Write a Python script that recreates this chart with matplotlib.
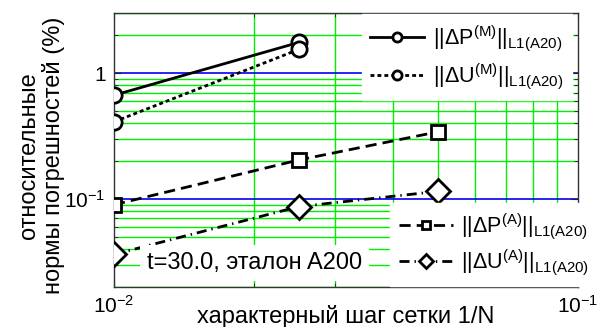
import matplotlib
matplotlib.use("Agg")
import matplotlib.pyplot as plt
from matplotlib.ticker import LogLocator, NullFormatter, FixedLocator, FixedFormatter

plt.rcParams['font.family'] = ['Liberation Sans', 'DejaVu Sans']
plt.rcParams['mathtext.fontset'] = 'custom'
plt.rcParams['mathtext.rm'] = 'Liberation Sans'
plt.rcParams['mathtext.it'] = 'Liberation Sans'
plt.rcParams['mathtext.default'] = 'regular'

# mesh step h = 1/N
h_M = [0.01, 0.025]
dP_M = [0.667, 1.75]
dU_M = [0.41, 1.54]

h_A = [0.01, 0.025, 0.05]
dP_A = [0.090, 0.204, 0.342]
dU_A = [0.0363, 0.087, 0.115]

labels = [r'$||\Delta P^{(M)}||_{L1(A20)}$',
          r'$||\Delta U^{(M)}||_{L1(A20)}$',
          r'$||\Delta P^{(A)}||_{L1(A20)}$',
          r'$||\Delta U^{(A)}||_{L1(A20)}$']

fig = plt.figure(figsize=(6.08, 3.27), dpi=100)
ax = fig.add_axes([114/608, 1 - 287/327, (578 - 114)/608, (287 - 13)/327])
ax.set_xscale('log')
ax.set_yscale('log')
ax.set_xlim(0.01, 0.1)
ax.set_ylim(0.02, 3)

# grid: blue at decades, green at intermediate values
ax.xaxis.set_minor_locator(LogLocator(base=10, subs=range(2, 10)))
ax.yaxis.set_minor_locator(LogLocator(base=10, subs=range(2, 10)))
ax.grid(True, which='minor', color='#00ee00', lw=1.0, zorder=0)
ax.grid(True, which='major', axis='y', color='#0000ee', lw=1.2, zorder=0)
ax.set_axisbelow(True)

ax.xaxis.set_major_locator(FixedLocator([0.01, 0.1]))
ax.xaxis.set_major_formatter(FixedFormatter([r'$10^{-2}$', r'$10^{-1}$']))
ax.yaxis.set_major_locator(FixedLocator([0.1, 1]))
ax.yaxis.set_major_formatter(FixedFormatter([r'$10^{-1}$', '1']))
ax.xaxis.set_minor_formatter(NullFormatter())
ax.yaxis.set_minor_formatter(NullFormatter())
ax.tick_params(which='both', direction='in', top=True, right=True,
               labelsize=15, color='#222222')
ax.tick_params(which='major', length=5, pad=6)
ax.tick_params(which='minor', length=3)
for s in ax.spines.values():
    s.set_color('#333333')
    s.set_linewidth(1.0)

lw = 2.0
common = dict(color='black', lw=lw, markerfacecolor='white',
              markeredgecolor='black', markeredgewidth=2.0)
l1, = ax.plot(h_M, dP_M, '-', marker='o', ms=11, zorder=3, **common)
l2, = ax.plot(h_M, dU_M, ':', marker='o', ms=11, zorder=3, **common)
l2.set_dashes([1.4, 1.1])
l3, = ax.plot(h_A, dP_A, '--', marker='s', ms=10, zorder=3, **common)
l3.set_dashes([4, 2.2])
l4, = ax.plot(h_A, dU_A, '-.', marker='D', ms=12, zorder=3, **common)
l4.set_dashes([3.6, 1.8, 0.5, 1.8])

leg_kw = dict(frameon=True, fancybox=False, edgecolor='white', facecolor='white',
              framealpha=1, fontsize=15.5, handlelength=2.5, handletextpad=0.4,
              borderaxespad=0.0, borderpad=0.4, numpoints=1,
              markerscale=0.6)
leg1 = ax.legend([l1, l2], labels[:2], loc='upper left', labelspacing=0.4,
                 bbox_to_anchor=(0.534, 0.995), **leg_kw)
leg1.set_zorder(5)
ax.add_artist(leg1)
leg2 = ax.legend([l3, l4], labels[2:], loc='lower left', labelspacing=0.3,
                 bbox_to_anchor=(0.595, 0.004), **leg_kw)
leg2.set_zorder(5)

ax.text(0.01178, 0.0277, 't=30.0, эталон A200', fontsize=17, va='baseline', ha='left',
        zorder=4, bbox=dict(facecolor='white', edgecolor='none', pad=5))

ax.set_xlabel('характерный шаг сетки 1/N', fontsize=17)
ax.xaxis.set_label_coords(0.5, -0.131)
ax.xaxis.label.set_va('baseline')
ax.set_ylabel('относительные\nнормы погрешностей (%)', fontsize=17,
              linespacing=1.15)
ax.yaxis.set_label_coords(-0.105, 0.48)

fig.savefig('out.png', dpi=100)
